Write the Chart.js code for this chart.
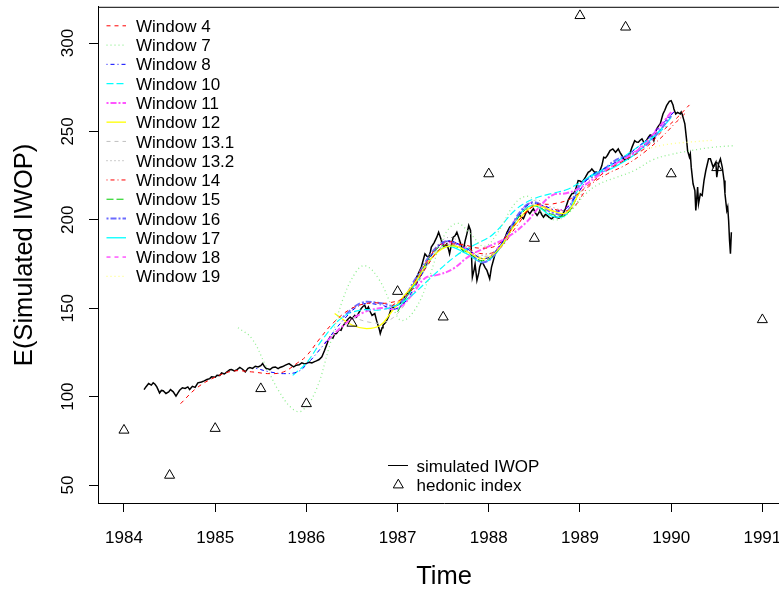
<!DOCTYPE html>
<html>
<head>
<meta charset="utf-8">
<script src="https://cdn.jsdelivr.net/npm/chart.js@4.4.0/dist/chart.umd.min.js"></script>
<style>
  html, body { margin: 0; padding: 0; background: #fff; overflow: hidden; }
  #wrap { width: 800px; height: 589px; }
</style>
</head>
<body>
<div id="wrap"><canvas id="chart" width="800" height="589"></canvas></div>
<script>
const xTicks = [1984, 1985, 1986, 1987, 1988, 1989, 1990, 1991];
const yTicks = [50, 100, 150, 200, 250, 300];

const hedonicTime = [1984, 1984.5, 1985, 1985.5, 1986, 1986.5, 1987, 1987.5, 1988, 1988.5, 1989, 1989.5, 1990, 1990.5, 1991];
const hedonicValue = [81, 55.5, 82, 104.5, 96, 141.5, 159.5, 145, 226, 189.5, 315.5, 309, 226, 229.5, 143.5];

// simulated IWOP, [time, value]
const iwop = [
  [1984.22,104],[1984.24,105.5],[1984.27,107.4],[1984.30,106.5],[1984.32,107.8],[1984.34,107],[1984.36,105.5],
  [1984.39,102.1],[1984.41,103.5],[1984.43,103.3],[1984.46,101.8],[1984.49,102.7],[1984.51,104],[1984.54,102.7],
  [1984.57,100.3],[1984.59,102],[1984.61,103.6],[1984.64,105],[1984.67,104.6],[1984.70,105.5],[1984.72,104],
  [1984.75,105.8],[1984.78,105.2],[1984.81,107.8],[1984.85,108.3],[1984.88,108.9],[1984.91,109.7],[1984.94,110.2],
  [1984.96,111.2],[1985.00,111],[1985.02,112.1],[1985.05,112],[1985.07,113.4],[1985.10,112.8],[1985.13,114],
  [1985.16,115.2],[1985.18,115.3],[1985.21,114.6],[1985.24,115.3],[1985.27,116.5],[1985.30,115.5],[1985.33,114],
  [1985.36,116],[1985.38,116.5],[1985.41,116],[1985.44,117.2],[1985.47,116.8],[1985.50,117.5],[1985.52,118.7],
  [1985.54,117],[1985.56,115.9],[1985.60,115.3],[1985.63,116.5],[1985.66,116.8],[1985.69,115.8],[1985.71,116.5],
  [1985.74,117],[1985.77,117.8],[1985.81,118.7],[1985.84,117.5],[1985.86,116.8],[1985.89,117.8],[1985.92,118],
  [1985.95,119.1],[1985.98,118.5],[1986.00,118.7],[1986.03,119.5],[1986.06,119.1],[1986.09,119.8],[1986.11,120.2],
  [1986.14,121],[1986.17,122.5],[1986.20,126.2],[1986.22,129],[1986.24,131.9],[1986.26,133.8],[1986.29,133],
  [1986.31,135.5],[1986.33,135.7],[1986.36,138],[1986.38,137.5],[1986.40,140],[1986.42,141.3],[1986.45,143.5],
  [1986.48,145],[1986.50,144],[1986.53,146],[1986.55,145],[1986.57,147],[1986.60,149.8],[1986.62,151],
  [1986.64,151.7],[1986.66,149],[1986.68,150.7],[1986.70,148],[1986.72,146],[1986.75,147],[1986.77,143],
  [1986.78,141.3],[1986.80,138],[1986.81,135.7],[1986.83,139],[1986.84,140.4],[1986.87,142],[1986.90,145],
  [1986.93,149.8],[1986.96,150.5],[1986.99,151.7],[1987.02,152.5],[1987.04,153.5],[1987.07,156],[1987.10,158.3],
  [1987.13,159],[1987.15,161.1],[1987.18,164],[1987.21,167.6],[1987.24,171],[1987.26,173.3],[1987.28,177],
  [1987.30,180.8],[1987.32,179.5],[1987.34,178.9],[1987.36,182],[1987.37,184.6],[1987.40,187],[1987.43,190.2],
  [1987.45,193],[1987.47,190],[1987.48,188.4],[1987.51,184.6],[1987.54,186.5],[1987.56,183],[1987.57,180.8],
  [1987.59,186],[1987.61,190.2],[1987.63,191],[1987.65,193],[1987.67,190],[1987.68,188.4],[1987.70,185],
  [1987.72,182.7],[1987.74,188],[1987.76,192.1],[1987.78,196.8],[1987.80,194],[1987.81,180.8],[1987.82,167.6],
  [1987.84,172],[1987.85,175.1],[1987.87,165.7],[1987.89,170],[1987.90,173.3],[1987.92,176],[1987.94,175.1],
  [1987.96,173],[1987.98,171.4],[1988.01,166.7],[1988.03,173.3],[1988.05,177],[1988.07,180.8],[1988.10,183],
  [1988.12,184.6],[1988.15,187],[1988.18,190.2],[1988.20,193],[1988.23,195.9],[1988.26,197],[1988.29,199.6],
  [1988.31,201],[1988.34,202.5],[1988.36,201.5],[1988.38,200.6],[1988.40,203],[1988.42,205.3],[1988.45,203.4],
  [1988.47,205],[1988.49,206.3],[1988.51,204],[1988.53,202.5],[1988.55,204],[1988.56,205.3],[1988.58,203],
  [1988.60,201.5],[1988.62,203],[1988.64,202.5],[1988.67,201],[1988.69,200.6],[1988.72,202],[1988.74,201.5],
  [1988.77,201],[1988.80,202.5],[1988.82,204],[1988.84,206.3],[1988.87,211],[1988.89,213],[1988.91,214.7],
  [1988.93,215],[1988.95,216.6],[1988.98,222.2],[1989.00,222],[1989.02,221.3],[1989.04,222.5],[1989.06,224.1],
  [1989.09,226.9],[1989.11,227.5],[1989.13,228.8],[1989.16,226.9],[1989.18,227],[1989.20,226],[1989.22,228],
  [1989.24,230.7],[1989.26,235.4],[1989.28,235],[1989.30,236.4],[1989.33,239.2],[1989.36,240.1],[1989.39,238.2],
  [1989.42,240.1],[1989.44,238],[1989.46,236.4],[1989.49,233.5],[1989.51,235],[1989.53,234.5],[1989.55,238],
  [1989.57,241],[1989.60,244.8],[1989.62,244],[1989.64,243.9],[1989.66,245],[1989.68,245.8],[1989.71,243],
  [1989.73,245],[1989.75,246.7],[1989.77,248],[1989.79,247.6],[1989.81,244.8],[1989.84,251.4],[1989.86,253],
  [1989.88,254.3],[1989.91,259.9],[1989.93,262],[1989.95,264.6],[1989.98,267],[1990.00,267.4],[1990.02,265],
  [1990.03,262.7],[1990.05,259.9],[1990.07,260.8],[1990.10,259.9],[1990.11,261],[1990.12,259.9],[1990.15,254.3],
  [1990.17,244.8],[1990.18,239.2],[1990.20,235.4],[1990.21,237.3],[1990.22,229.8],[1990.24,220.4],[1990.26,216.6],
  [1990.27,205.3],[1990.29,218.5],[1990.30,209.1],[1990.32,214.7],[1990.34,213.8],[1990.36,222.2],[1990.38,227.9],
  [1990.41,234.5],[1990.43,234.5],[1990.46,229.8],[1990.49,232.6],[1990.50,224.1],[1990.52,231.7],[1990.54,234.5],
  [1990.56,229.8],[1990.58,222.2],[1990.59,214.7],[1990.61,205.3],[1990.62,207.2],[1990.63,199.6],[1990.64,188.4],
  [1990.65,180.8],[1990.66,193]
];

// window fits, [time, value]
const w4 = [[1984.62,96],[1984.8,105],[1985.0,111],[1985.2,114.5],[1985.4,114],[1985.6,113],[1985.75,114],[1985.9,119],[1986.0,123],[1986.15,133],[1986.3,142],[1986.5,150],[1986.7,153],[1986.9,153],[1987.1,157],[1987.3,172],[1987.5,185],[1987.7,186],[1987.9,184],[1988.1,186],[1988.3,198],[1988.5,208],[1988.7,209],[1988.9,212],[1989.1,220],[1989.3,228],[1989.5,234],[1989.7,240],[1989.9,250],[1990.05,257],[1990.2,265]];
const w7 = [[1985.25,139],[1985.4,133],[1985.55,118],[1985.7,103],[1985.85,93],[1985.95,92],[1986.1,103],[1986.25,128],[1986.4,155],[1986.55,171],[1986.65,174],[1986.8,166],[1986.95,150],[1987.05,143],[1987.2,150],[1987.35,168],[1987.5,190],[1987.65,198],[1987.8,192],[1987.95,185],[1988.1,193],[1988.3,210],[1988.45,213],[1988.6,203],[1988.75,200],[1988.9,205],[1989.05,214],[1989.2,220],[1989.4,224],[1989.6,228],[1989.8,234],[1990.0,237],[1990.2,239],[1990.45,241],[1990.7,242]];
const w8 = [[1985.45,116],[1985.6,114],[1985.75,113],[1985.9,114],[1986.0,118],[1986.2,130],[1986.4,143],[1986.6,152],[1986.8,152],[1987.0,150],[1987.2,163],[1987.4,182],[1987.55,188],[1987.75,184],[1987.95,178],[1988.1,184],[1988.3,200],[1988.45,209],[1988.6,208],[1988.8,205],[1988.95,213],[1989.1,224],[1989.3,230],[1989.5,236],[1989.7,244],[1989.9,254],[1990.05,262]];
const w10 = [[1985.85,112],[1986.0,119],[1986.2,134],[1986.4,145],[1986.6,149],[1986.8,149],[1987.0,152],[1987.15,157],[1987.4,169],[1987.65,180],[1987.85,186],[1988.05,192],[1988.3,206],[1988.5,212],[1988.7,215],[1988.85,217],[1989.0,221],[1989.2,227],[1989.4,233],[1989.6,240],[1989.8,247],[1989.95,253]];
const w11 = [[1986.2,130],[1986.4,140],[1986.6,147],[1986.8,150],[1987.0,150],[1987.15,157],[1987.3,167],[1987.45,169],[1987.6,172],[1987.8,180],[1988.0,185],[1988.2,190],[1988.4,198],[1988.55,207],[1988.7,214],[1988.85,215],[1989.0,218],[1989.2,225],[1989.4,232],[1989.6,238],[1989.8,248],[1990.0,261]];
const w12 = [[1986.31,147],[1986.5,140.5],[1986.66,138.5],[1986.81,140.4],[1986.92,147],[1987.03,154.5],[1987.2,165],[1987.35,177],[1987.5,184],[1987.65,185],[1987.8,181],[1987.95,178],[1988.1,183],[1988.3,198],[1988.5,208],[1988.7,205],[1988.85,204],[1989.0,216]];
const w13a = [[1986.5,145],[1986.7,142],[1986.85,142],[1987.0,147],[1987.2,162],[1987.4,181],[1987.55,186],[1987.7,184],[1987.9,179],[1988.1,183],[1988.3,200],[1988.5,209],[1988.7,205]];
const w13b = [[1987.0,152],[1987.2,166],[1987.4,183],[1987.55,190],[1987.7,187],[1987.9,180],[1988.1,184],[1988.3,199],[1988.5,211],[1988.7,207],[1988.9,206],[1989.1,222],[1989.3,231]];
const w14 = [[1986.9,150],[1987.1,158],[1987.3,175],[1987.5,187],[1987.7,186],[1987.9,181],[1988.1,183],[1988.3,196],[1988.5,208],[1988.7,206],[1988.9,206],[1989.1,219],[1989.3,226],[1989.5,231],[1989.7,238],[1989.9,247],[1990.05,255],[1990.15,260]];
const w15 = [[1987.0,148],[1987.2,165],[1987.4,182],[1987.55,186],[1987.75,182],[1987.95,177],[1988.15,186],[1988.35,203],[1988.5,208],[1988.7,203],[1988.85,203],[1989.0,216]];
const w16 = [[1986.4,145],[1986.6,153],[1986.8,153],[1987.0,152],[1987.2,167],[1987.4,183],[1987.55,188],[1987.75,183],[1987.95,176],[1988.15,187],[1988.35,205],[1988.5,210],[1988.7,204],[1988.85,204],[1989.0,220],[1989.2,226],[1989.4,234],[1989.6,238],[1989.8,246],[1990.0,259]];
const w17 = [[1987.0,149],[1987.2,164],[1987.4,180],[1987.55,185],[1987.75,181],[1987.95,176],[1988.15,186],[1988.35,204],[1988.5,208],[1988.7,202],[1988.85,203],[1989.0,219],[1989.15,226],[1989.3,228],[1989.45,232],[1989.6,237],[1989.75,244],[1989.9,252],[1990.0,258]];
const w18 = [[1987.2,163],[1987.4,182],[1987.55,187],[1987.75,184],[1987.95,178],[1988.15,188],[1988.35,205],[1988.5,210],[1988.7,205],[1988.9,209],[1989.1,224],[1989.3,229],[1989.5,235],[1989.7,243],[1989.9,255],[1990.05,262]];
const w19 = [[1989.2,226],[1989.4,234],[1989.6,238],[1989.8,241],[1990.0,243],[1990.2,244],[1990.45,245]];

const windows = [
  { label: 'Window 4',    data: w4,   color: '#ff0000', dash: [4, 4],       width: 1 },
  { label: 'Window 7',    data: w7,   color: '#90ee90', dash: [1, 3],       width: 1.3 },
  { label: 'Window 8',    data: w8,   color: '#0000ff', dash: [1, 3, 4, 3], width: 1 },
  { label: 'Window 10',   data: w10,  color: '#00ffff', dash: [7, 3],       width: 1.2 },
  { label: 'Window 11',   data: w11,  color: '#ff55ff', dash: [2, 2, 6, 2], width: 2 },
  { label: 'Window 12',   data: w12,  color: '#ffff00', dash: [],           width: 1.3 },
  { label: 'Window 13.1', data: w13a, color: '#c0c0c0', dash: [4, 4],       width: 1 },
  { label: 'Window 13.2', data: w13b, color: '#999999', dash: [1, 3],       width: 1 },
  { label: 'Window 14',   data: w14,  color: '#ff0000', dash: [1, 3, 4, 3], width: 1 },
  { label: 'Window 15',   data: w15,  color: '#00cd00', dash: [7, 3],       width: 1 },
  { label: 'Window 16',   data: w16,  color: '#6b6bff', dash: [2, 2, 6, 2], width: 2 },
  { label: 'Window 17',   data: w17,  color: '#00ffff', dash: [],           width: 1.3 },
  { label: 'Window 18',   data: w18,  color: '#ff00ff', dash: [4, 4],       width: 1 },
  { label: 'Window 19',   data: w19,  color: '#ffff80', dash: [1, 3],       width: 1.3 }
];

const FONT = '"Liberation Sans", Arial, Helvetica, sans-serif';
const toXY = arr => arr.map(p => ({ x: p[0], y: p[1] }));

const datasets = [
  {
    label: 'hedonic index',
    data: hedonicTime.map((t, i) => ({ x: t, y: hedonicValue[i] })),
    showLine: false,
    pointStyle: 'triangle',
    pointRadius: 5.8,
    pointBorderWidth: 1,
    pointBorderColor: '#000',
    pointBackgroundColor: 'rgba(0,0,0,0)'
  },
  ...windows.map(w => ({
    label: w.label,
    data: toXY(w.data),
    borderColor: w.color,
    borderWidth: w.width,
    borderDash: w.dash,
    pointRadius: 0,
    tension: 0.4,
    fill: false
  })),
  {
    label: 'simulated IWOP',
    data: toXY(iwop),
    borderColor: '#000',
    borderWidth: 1.5,
    pointRadius: 0,
    tension: 0,
    fill: false
  }
];

// box, tick labels, axis titles and both legends, drawn the way R's plot does
const decorations = {
  id: 'decorations',
  afterDraw(chart) {
    const { ctx, chartArea: a, scales: { x, y } } = chart;
    ctx.save();
    ctx.strokeStyle = '#000';
    ctx.fillStyle = '#000';
    ctx.lineWidth = 1;
    ctx.beginPath();
    ctx.moveTo(a.left, a.top + 0.5);
    ctx.lineTo(a.right, a.top + 0.5);
    ctx.stroke();

    ctx.font = '17px ' + FONT;
    ctx.textAlign = 'center';
    ctx.textBaseline = 'alphabetic';
    xTicks.forEach(v => ctx.fillText(String(v), x.getPixelForValue(v), 542.5));
    yTicks.forEach(v => {
      ctx.save();
      ctx.translate(72.8, y.getPixelForValue(v));
      ctx.rotate(-Math.PI / 2);
      ctx.fillText(String(v), 0, 0);
      ctx.restore();
    });

    ctx.font = '25.5px ' + FONT;
    ctx.fillText('Time', (a.left + a.right) / 2, 584);
    ctx.save();
    ctx.translate(32, (a.top + a.bottom) / 2);
    ctx.rotate(-Math.PI / 2);
    ctx.fillText('E(Simulated IWOP)', 0, 0);
    ctx.restore();

    // window legend, top left
    ctx.font = '17px ' + FONT;
    ctx.textAlign = 'left';
    windows.forEach((w, i) => {
      const cy = 25.8 + i * 19.27;
      ctx.save();
      ctx.strokeStyle = w.color;
      ctx.lineWidth = w.width;
      ctx.setLineDash(w.dash);
      ctx.beginPath();
      ctx.moveTo(106.5, cy);
      ctx.lineTo(126, cy);
      ctx.stroke();
      ctx.restore();
      ctx.fillText(w.label, 136, cy + 6.1);
    });

    // data legend, bottom middle
    ctx.beginPath();
    ctx.moveTo(388, 465.5);
    ctx.lineTo(408, 465.5);
    ctx.stroke();
    ctx.fillText('simulated IWOP', 416.5, 465.5 + 6.1);
    const r = 5.8, tx = 398.3, ty = 485;
    ctx.beginPath();
    ctx.moveTo(tx, ty - r);
    ctx.lineTo(tx + r * Math.sin(2 * Math.PI / 3), ty + r / 2);
    ctx.lineTo(tx - r * Math.sin(2 * Math.PI / 3), ty + r / 2);
    ctx.closePath();
    ctx.stroke();
    ctx.fillText('hedonic index', 416.5, 485 + 6.1);
    ctx.restore();
  }
};

new Chart(document.getElementById('chart').getContext('2d'), {
  type: 'line',
  data: { datasets },
  plugins: [decorations],
  options: {
    responsive: false,
    animation: false,
    devicePixelRatio: 1,
    layout: { padding: { left: 0, right: 10, top: 6, bottom: 0 } },
    plugins: { legend: { display: false }, tooltip: { enabled: false } },
    scales: {
      x: {
        type: 'linear',
        min: 1983.715,
        max: 1991.303,
        afterBuildTicks: s => { s.ticks = xTicks.map(v => ({ value: v })); },
        afterFit: s => { s.height = 86; },
        ticks: { display: false },
        grid: { drawOnChartArea: false, drawTicks: true, tickLength: 9, color: '#000' },
        border: { display: true, color: '#000', width: 1 }
      },
      y: {
        type: 'linear',
        min: 39.84,
        max: 320.5,
        afterBuildTicks: s => { s.ticks = yTicks.map(v => ({ value: v })); },
        afterFit: s => { s.width = 98; },
        ticks: { display: false },
        grid: { drawOnChartArea: false, drawTicks: true, tickLength: 9, color: '#000' },
        border: { display: true, color: '#000', width: 1 }
      }
    }
  }
});
</script>
</body>
</html>
